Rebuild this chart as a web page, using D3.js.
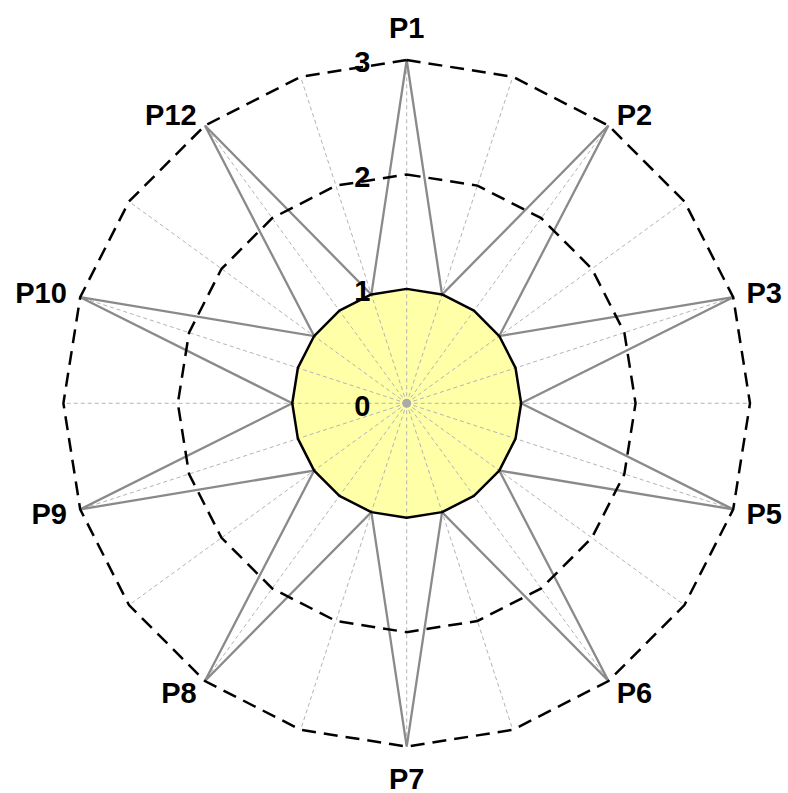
<!DOCTYPE html>
<html>
<head>
<meta charset="utf-8">
<script src="https://cdn.jsdelivr.net/npm/d3@7"></script>
<style>
  html, body { margin: 0; padding: 0; background: #fff; }
  svg { display: block; }
</style>
</head>
<body>
<svg id="chart" width="788" height="793"></svg>
<script>
// ---- data ----
const categories = ["P1", "", "P2", "", "P3", "", "P5", "", "P6", "", "P7", "", "P8", "", "P9", "", "P10", "", "P12", ""];
const starValues = [3, 1, 3, 1, 3, 1, 3, 1, 3, 1, 3, 1, 3, 1, 3, 1, 3, 1, 3, 1];
const baseValues = [1, 1, 1, 1, 1, 1, 1, 1, 1, 1, 1, 1, 1, 1, 1, 1, 1, 1, 1, 1];
const tickValues = [0, 1, 2, 3];
const gridLevels = [2, 3];

// ---- layout ----
const cx = 406.7, cy = 403.3, R = 343.3;
const svg = d3.select("#chart");
const g = svg.append("g").attr("transform", `translate(${cx},${cy})`);

const n = categories.length;
const angle = d3.scaleLinear().domain([0, n]).range([0, 2 * Math.PI]);
const r = d3.scaleLinear().domain([0, 3]).range([0, R]);

const radial = d3.lineRadial()
  .angle((d, i) => angle(i))
  .radius(d => r(d))
  .curve(d3.curveLinearClosed);

const pt = (i, v) => [r(v) * Math.sin(angle(i)), -r(v) * Math.cos(angle(i))];

// yellow base area
g.append("path")
  .datum(baseValues)
  .attr("d", radial)
  .attr("fill", "#ffffa8")
  .attr("stroke", "none");

// spokes
g.selectAll("line.spoke")
  .data(categories)
  .join("line")
  .attr("class", "spoke")
  .attr("x1", 0).attr("y1", 0)
  .attr("x2", (d, i) => pt(i, 3)[0])
  .attr("y2", (d, i) => pt(i, 3)[1])
  .attr("stroke", "#b4b4b4")
  .attr("stroke-width", 1)
  .attr("stroke-dasharray", "4,3");

// star series
g.append("path")
  .datum(starValues)
  .attr("d", radial)
  .attr("fill", "none")
  .attr("stroke", "#8a8a8a")
  .attr("stroke-width", 2.3)
  .attr("stroke-linejoin", "miter");

// grid rings
g.selectAll("path.ring")
  .data(gridLevels)
  .join("path")
  .attr("class", "ring")
  .attr("d", lv => radial(categories.map(() => lv)))
  .attr("fill", "none")
  .attr("stroke", "#000")
  .attr("stroke-width", 2.5)
  .attr("stroke-dasharray", "14,8");

// yellow base outline
g.append("path")
  .datum(baseValues)
  .attr("d", radial)
  .attr("fill", "none")
  .attr("stroke", "#000")
  .attr("stroke-width", 2.5)
  .attr("stroke-linejoin", "round");

// center dot
g.append("circle").attr("r", 4.5).attr("fill", "#aaaaaa");

// tick labels
g.selectAll("text.tick")
  .data(tickValues)
  .join("text")
  .attr("class", "tick")
  .attr("x", -44.5)
  .attr("y", d => -r(d) + 2)
  .attr("dy", "0.36em")
  .attr("text-anchor", "middle")
  .attr("font-family", "Arial, 'Liberation Sans', sans-serif")
  .attr("font-weight", "bold")
  .attr("font-size", 29)
  .attr("fill", "#000")
  .text(d => d);

// category labels
const pad = 14;
g.selectAll("text.cat")
  .data(categories)
  .join("text")
  .attr("class", "cat")
  .each(function (d, i) {
    const a = angle(i);
    const s = Math.sin(a), c = Math.cos(a);
    let x = (R + pad) * s;
    let y = -(R + pad) * c;
    let anchor = "middle";
    if (s > 0.01) anchor = "start";
    else if (s < -0.01) anchor = "end";
    else y += c > 0 ? -18 : 18;
    d3.select(this)
      .attr("x", x)
      .attr("y", y)
      .attr("dy", "0.36em")
      .attr("text-anchor", anchor);
  })
  .attr("font-family", "Arial, 'Liberation Sans', sans-serif")
  .attr("font-weight", "bold")
  .attr("font-size", 29)
  .attr("fill", "#000")
  .text(d => d);
</script>
</body>
</html>
